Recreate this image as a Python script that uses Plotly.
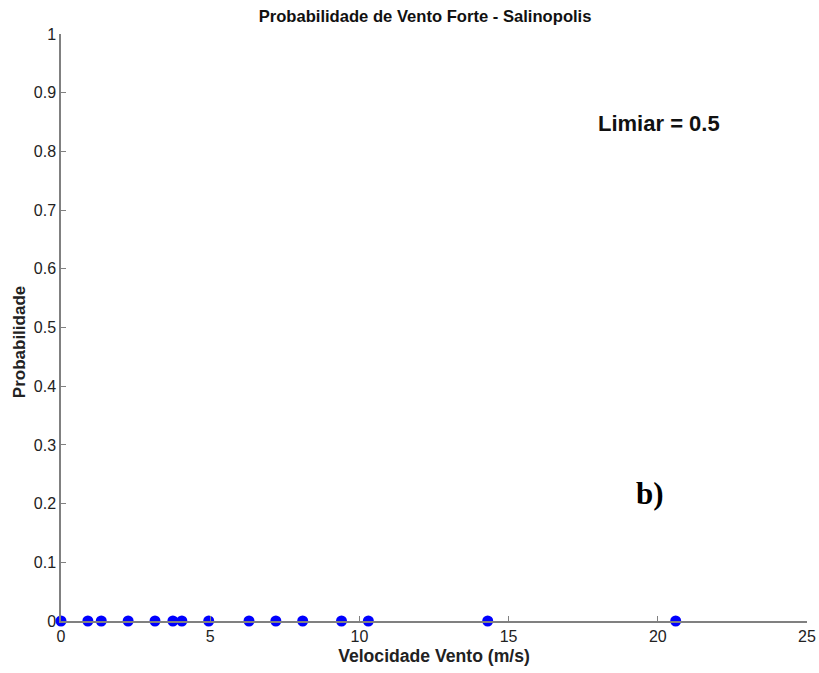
import plotly.graph_objects as go

velocidade = [0.0, 0.9, 1.35, 2.25, 3.15, 3.75, 4.05, 4.95, 6.3, 7.2, 8.1, 9.4, 10.3, 14.3, 20.6]
probabilidade = [0.0] * len(velocidade)

x_ticks = [0, 5, 10, 15, 20, 25]
y_ticks = [0, 0.1, 0.2, 0.3, 0.4, 0.5, 0.6, 0.7, 0.8, 0.9, 1]
y_tick_text = ["0", "0.1", "0.2", "0.3", "0.4", "0.5", "0.6", "0.7", "0.8", "0.9", "1"]

fig = go.Figure()
fig.add_trace(go.Scatter(
    x=velocidade, y=probabilidade, mode="markers",
    marker=dict(color="#0000ff", size=11),
    cliponaxis=False, showlegend=False,
))

axis_common = dict(
    showgrid=False, zeroline=False, showline=True, linecolor="#808080", linewidth=1.5,
    ticks="inside", ticklen=5, tickcolor="#808080", automargin=False,
    tickfont=dict(family="Liberation Sans, Arial", size=16, color="#222222"),
)

fig.update_layout(
    width=819, height=673,
    margin=dict(l=61, r=12, t=34, b=52, autoexpand=False),
    paper_bgcolor="white", plot_bgcolor="white",
    title=dict(text="<b>Probabilidade de Vento Forte - Salinopolis</b>",
               x=0.519, xanchor="center", y=0.976, yanchor="middle",
               font=dict(family="Liberation Sans, Arial", size=16.6, color="#111111")),
    xaxis=dict(range=[0, 25], tickvals=x_ticks, **axis_common,
               title=dict(text="<b>Velocidade Vento (m/s)</b>", standoff=6,
                          font=dict(family="Liberation Sans, Arial", size=17.6, color="#222222"))),
    yaxis=dict(range=[0, 1], tickvals=y_ticks, ticktext=y_tick_text, **axis_common),
    annotations=[
        dict(x=0.0, y=0.475, xref="paper", yref="paper", xanchor="center", yanchor="middle",
             xshift=-42, text="<b>Probabilidade</b>", textangle=-90, showarrow=False,
             font=dict(family="Liberation Sans, Arial", size=17, color="#222222")),
        dict(x=20.05, y=0.848, xref="x", yref="y", text="<b>Limiar = 0.5</b>", showarrow=False,
             font=dict(family="Liberation Sans, Arial", size=22, color="#111111")),
        dict(x=19.75, y=0.218, xref="x", yref="y", text="<b>b)</b>", showarrow=False,
             font=dict(family="Liberation Serif, Times New Roman", size=31, color="#000000")),
    ],
)

fig.write_html("out.html")
